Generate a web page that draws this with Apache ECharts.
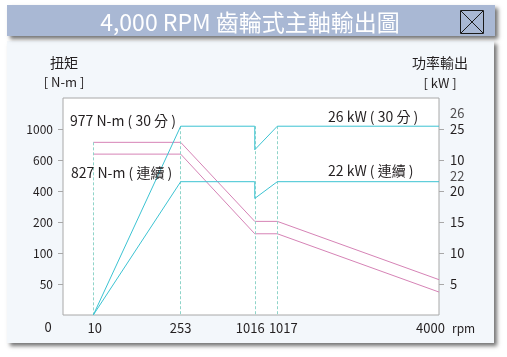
<!DOCTYPE html>
<html><head><meta charset="utf-8">
<script src="https://cdn.jsdelivr.net/npm/echarts@6/dist/echarts.min.js"></script>
<style>html,body{margin:0;padding:0;background:#fff}#c{width:507px;height:357px}</style>
</head><body><div id="c"></div>
<script>
// ---- data ----
const rpmTicks = [10, 253, 1016, 1017, 4000];
const torqueTicks = [0, 50, 100, 200, 400, 600, 1000];
const powerTicks = ['', '5', '10', '15', '20', '10', '25'];

const torque30Rpm = [10, 253, 1016, 1017, 4000];
const torque30 = [828, 828, 204, 204, 57];          // N-m
const torqueContRpm = [10, 253, 1016, 1017, 4000];
const torqueCont = [676, 676, 162, 162, 37];        // N-m

const power30Rpm = [10, 253, 1016, 1016, 1017, 4000];
const power30 = [0, 6.09, 6.09, 5.33, 6.09, 6.09];  // right-axis grid level
const powerContRpm = [10, 253, 1016, 1016, 1017, 4000];
const powerCont = [0, 4.30, 4.30, 3.76, 4.30, 4.30];

const ratedPowerLabels = ['26', '22'];
const ratedPowerLevels = [6.52, 4.48];

const guideRpm = [10, 253, 1016, 1017];

// ---- non-linear axis layout (schematic chart) ----
const rpmAxisPos = [0.0806, 0.313, 0.510, 0.570, 1];
function interp(v, xs, ys) {
  for (let i = 0; i < xs.length - 1; i++) {
    if (v <= xs[i + 1] || i === xs.length - 2) {
      const t = (v - xs[i]) / (xs[i + 1] - xs[i]);
      return ys[i] + t * (ys[i + 1] - ys[i]);
    }
  }
}
const rpmToX = r => interp(r, rpmTicks, rpmAxisPos);
const torqueToY = t => interp(t, torqueTicks, torqueTicks.map((_, i) => i));

const torque30Data = torque30Rpm.map((r, i) => [rpmToX(r), torqueToY(torque30[i])]);
const torqueContData = torqueContRpm.map((r, i) => [rpmToX(r), torqueToY(torqueCont[i])]);
const power30Data = power30Rpm.map((r, i) => [rpmToX(r), power30[i]]);
const powerContData = powerContRpm.map((r, i) => [rpmToX(r), powerCont[i]]);

function topAt(r) {
  let m = 0;
  [torque30Data, torqueContData, power30Data, powerContData].forEach(s =>
    s.forEach(p => { if (Math.abs(p[0] - rpmToX(r)) < 1e-9) m = Math.max(m, p[1]); }));
  return m;
}

const FONT = '"Noto Sans CJK TC", "Noto Sans", sans-serif';
const TXT = '#231f20';
const GRID = '#a8a8a8';
const PINK = '#d683b6';
const CYAN = '#3cc3d2';

const xLabelRich = {
  l10: { padding: [0, 0, 0, 3] },
  l253: { padding: [0, 0, 0, 0] },
  l1016: { padding: [0, 9, 0, 0] },
  l1017: { padding: [0, 0, 0, 12] },
  l4000: { padding: [0, 17, 0, 0] }
};

const chart = echarts.init(document.getElementById('c'), null, { renderer: 'canvas' });
chart.setOption({
  animation: false,
  backgroundColor: '#fff',
  textStyle: { fontFamily: FONT, color: TXT },
  grid: { left: 63, top: 98, width: 376, height: 217, show: true, backgroundColor: '#fff', borderColor: GRID, borderWidth: 1, z: 2 },
  graphic: [
    { type: 'rect', z: -10, shape: { x: 7, y: 41, width: 487, height: 302 }, style: { fill: '#f3f7fb', shadowColor: 'rgba(0,0,0,0.55)', shadowBlur: 4, shadowOffsetX: 3, shadowOffsetY: 3 } },
    { type: 'rect', z: -10, shape: { x: 7, y: 5, width: 488, height: 31 }, style: { fill: '#a9b8d4', shadowColor: 'rgba(0,0,0,0.55)', shadowBlur: 4, shadowOffsetX: 3, shadowOffsetY: 3 } },
    { type: 'text', x: 250, y: 22, style: { text: '4,000 RPM 齒輪式主軸輸出圖', fill: '#fff', font: '23px ' + FONT, align: 'center', verticalAlign: 'middle' } },
    { type: 'rect', shape: { x: 460.5, y: 10.5, width: 23, height: 23 }, style: { fill: 'none', stroke: '#1a1a1a', lineWidth: 1 } },
    { type: 'line', shape: { x1: 461, y1: 11, x2: 483, y2: 33 }, style: { stroke: '#1a1a1a', lineWidth: 1 } },
    { type: 'line', shape: { x1: 483, y1: 11, x2: 461, y2: 33 }, style: { stroke: '#1a1a1a', lineWidth: 1 } },
    { type: 'text', x: 64, y: 63, style: { text: '扭矩', fill: TXT, font: '14px ' + FONT, align: 'center', verticalAlign: 'middle' } },
    { type: 'text', x: 64, y: 82, style: { text: '[ N-m ]', fill: TXT, font: '13px ' + FONT, align: 'center', verticalAlign: 'middle' } },
    { type: 'text', x: 440, y: 63, style: { text: '功率輸出', fill: TXT, font: '14px ' + FONT, align: 'center', verticalAlign: 'middle' } },
    { type: 'text', x: 440, y: 83, style: { text: '[ kW ]', fill: TXT, font: '13px ' + FONT, align: 'center', verticalAlign: 'middle' } },
    { type: 'text', x: 48, y: 327, style: { text: '0', fill: TXT, font: '13px ' + FONT, align: 'center', verticalAlign: 'middle' } },
    { type: 'text', x: 452, y: 328, style: { text: 'rpm', fill: TXT, font: '12px ' + FONT, align: 'left', verticalAlign: 'middle' } },
    { type: 'text', z: 10, x: 70, y: 121, style: { text: '977 N-m ( 30 分 )', fill: TXT, font: '14px ' + FONT, align: 'left', verticalAlign: 'middle' } },
    { type: 'text', z: 10, x: 71, y: 173, style: { text: '827 N-m ( 連續 )', fill: TXT, font: '14px ' + FONT, align: 'left', verticalAlign: 'middle' } },
    { type: 'text', z: 10, x: 328, y: 117, style: { text: '26 kW ( 30 分 )', fill: TXT, font: '14px ' + FONT, align: 'left', verticalAlign: 'middle' } },
    { type: 'text', z: 10, x: 328, y: 171, style: { text: '22 kW ( 連續 )', fill: TXT, font: '14px ' + FONT, align: 'left', verticalAlign: 'middle' } }
  ],
  xAxis: {
    type: 'value', min: 0, max: 1,
    axisLine: { show: false }, axisTick: { show: false }, splitLine: { show: false },
    axisLabel: {
      customValues: rpmAxisPos, margin: 7, fontSize: 13, color: TXT, fontFamily: FONT,
      formatter: v => {
        const i = rpmAxisPos.findIndex(p => Math.abs(p - v) < 1e-6);
        return i < 0 ? '' : '{l' + rpmTicks[i] + '|' + rpmTicks[i] + '}';
      },
      rich: xLabelRich
    }
  },
  yAxis: [
    {
      type: 'value', min: 0, max: 7, interval: 1, position: 'left',
      axisLine: { show: false },
      axisTick: { show: true, length: 5, customValues: [1, 2, 3, 4, 5, 6], lineStyle: { color: GRID } },
      splitLine: { show: true, lineStyle: { color: GRID, width: 1 } },
      axisLabel: { customValues: [1, 2, 3, 4, 5, 6], margin: 10, fontSize: 12, color: TXT, fontFamily: FONT, formatter: v => String(torqueTicks[Math.round(v)]) }
    },
    {
      type: 'value', min: 0, max: 7, interval: 1, position: 'right',
      axisLine: { show: false },
      axisTick: { show: true, length: 5, customValues: [1, 2, 3, 4, 5, 6], lineStyle: { color: GRID } },
      splitLine: { show: false },
      axisLabel: { customValues: [1, 2, 3, 4, 5, 6], margin: 11, fontSize: 13, color: TXT, fontFamily: FONT, formatter: v => powerTicks[Math.round(v)] }
    }
  ],
  series: [
    {
      type: 'line', name: 'guides', data: [], yAxisIndex: 0, z: 3,
      markLine: {
        silent: true, symbol: 'none', label: { show: false },
        lineStyle: { color: '#8fd4c9', type: [3, 2], width: 1 },
        data: guideRpm.map(r => [{ coord: [rpmToX(r), topAt(r)] }, { coord: [rpmToX(r), 0] }])
      }
    },
    { type: 'line', name: 'torque30', yAxisIndex: 0, data: torque30Data, symbol: 'none', lineStyle: { color: PINK, width: 1 }, z: 4 },
    { type: 'line', name: 'torqueCont', yAxisIndex: 0, data: torqueContData, symbol: 'none', lineStyle: { color: PINK, width: 1 }, z: 4 },
    { type: 'line', name: 'power30', yAxisIndex: 1, data: power30Data, symbol: 'none', lineStyle: { color: CYAN, width: 1 }, z: 5 },
    { type: 'line', name: 'powerCont', yAxisIndex: 1, data: powerContData, symbol: 'none', lineStyle: { color: CYAN, width: 1 }, z: 5 },
    {
      type: 'scatter', name: 'ratedPower', yAxisIndex: 1, symbolSize: 0, z: 6,
      data: ratedPowerLevels.map((lv, i) => ({ value: [1, lv], label: { formatter: ratedPowerLabels[i] } })),
      label: { show: true, position: 'right', distance: 11, fontSize: 13, color: TXT, fontFamily: FONT }
    }
  ]
});
</script></body></html>
